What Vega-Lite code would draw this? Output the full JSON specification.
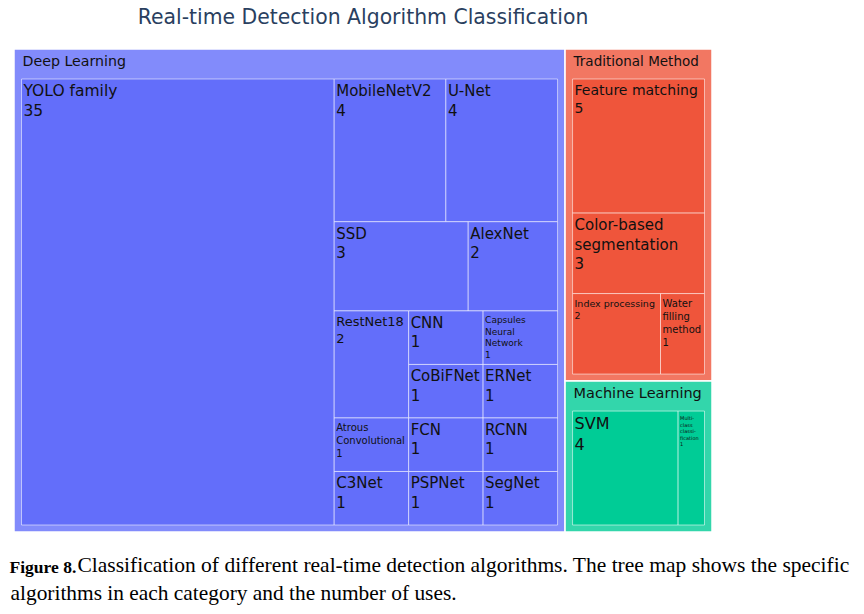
{
  "$schema": "https://vega.github.io/schema/vega-lite/v6.json",
  "width": 698,
  "height": 483,
  "autosize": {"type": "none"},
  "padding": {"left": 14, "top": 49, "right": 152, "bottom": 82},
  "background": "white",
  "title": {
    "text": "Real-time Detection Algorithm Classification",
    "font": "DejaVu Sans",
    "fontSize": 20.4,
    "fontWeight": "normal",
    "color": "#2a3f5f",
    "anchor": "middle",
    "frame": "group",
    "offset": 20
  },
  "data": {
    "values": [
      {"category": "Deep Learning", "name": "YOLO family", "value": 35, "path": "DL/i/Y/i/i/i"},
      {"category": "Deep Learning", "name": "MobileNetV2", "value": 4, "path": "DL/i/Rest/row1/MobileNetV2/i"},
      {"category": "Deep Learning", "name": "U-Net", "value": 4, "path": "DL/i/Rest/row1/U-Net/i"},
      {"category": "Deep Learning", "name": "SSD", "value": 3, "path": "DL/i/Rest/row2/SSD/i"},
      {"category": "Deep Learning", "name": "AlexNet", "value": 2, "path": "DL/i/Rest/row2/AlexNet/i"},
      {"category": "Deep Learning", "name": "RestNet18", "value": 2, "path": "DL/i/Rest/r12/c1/RestNet18"},
      {"category": "Deep Learning", "name": "Atrous Convolutional", "value": 1, "path": "DL/i/Rest/r12/c1/Atrous"},
      {"category": "Deep Learning", "name": "C3Net", "value": 1, "path": "DL/i/Rest/r12/c1/C3Net"},
      {"category": "Deep Learning", "name": "CNN", "value": 1, "path": "DL/i/Rest/r12/c2/q1"},
      {"category": "Deep Learning", "name": "Capsules Neural Network", "value": 1, "path": "DL/i/Rest/r12/c2/q1"},
      {"category": "Deep Learning", "name": "CoBiFNet", "value": 1, "path": "DL/i/Rest/r12/c2/q2"},
      {"category": "Deep Learning", "name": "ERNet", "value": 1, "path": "DL/i/Rest/r12/c2/q2"},
      {"category": "Deep Learning", "name": "FCN", "value": 1, "path": "DL/i/Rest/r12/c2/q3"},
      {"category": "Deep Learning", "name": "RCNN", "value": 1, "path": "DL/i/Rest/r12/c2/q3"},
      {"category": "Deep Learning", "name": "PSPNet", "value": 1, "path": "DL/i/Rest/r12/c2/q4"},
      {"category": "Deep Learning", "name": "SegNet", "value": 1, "path": "DL/i/Rest/r12/c2/q4"},
      {"category": "Traditional Method", "name": "Feature matching", "value": 5, "path": "R/T/i/FM/i/i"},
      {"category": "Traditional Method", "name": "Color-based segmentation", "value": 3, "path": "R/T/i/CB/i/i"},
      {"category": "Traditional Method", "name": "Index processing", "value": 2, "path": "R/T/i/trow/Index/i"},
      {"category": "Traditional Method", "name": "Water filling method", "value": 1, "path": "R/T/i/trow/Water/i"},
      {"category": "Machine Learning", "name": "SVM", "value": 4, "path": "R/M/i/i/SVM/i"},
      {"category": "Machine Learning", "name": "Multi-class classification", "value": 1, "path": "R/M/i/i/Multi/i"}
    ]
  },
  "transform": [
    {"window": [{"op": "row_number", "as": "idx"}]},
    {"calculate": "split(datum.path, '/')", "as": "pp"},
    {"calculate": "datum.pp[0]", "as": "p1"},
    {"calculate": "datum.p1 + '/' + datum.pp[1]", "as": "p2"},
    {"calculate": "datum.p2 + '/' + datum.pp[2]", "as": "p3"},
    {"calculate": "datum.p3 + '/' + datum.pp[3]", "as": "p4"},
    {"calculate": "datum.p4 + '/' + datum.pp[4]", "as": "p5"},
    {"calculate": "datum.p5 + '/' + datum.pp[5]", "as": "p6"},
    {"calculate": "datum.p6 + '/' + datum.name", "as": "p7"},
    {"joinaggregate": [{"op": "sum", "field": "value", "as": "t0"}]},

    {"window": [{"op": "sum", "field": "value", "as": "c1"}], "sort": [{"field": "idx", "order": "ascending"}], "frame": [null, 0]},
    {"calculate": "datum.c1 - datum.value", "as": "l1"},
    {"joinaggregate": [{"op": "min", "field": "l1", "as": "o1"}, {"op": "sum", "field": "value", "as": "t1"}], "groupby": ["p1"]},

    {"window": [{"op": "sum", "field": "value", "as": "c2"}], "sort": [{"field": "idx", "order": "ascending"}], "groupby": ["p1"], "frame": [null, 0]},
    {"calculate": "datum.c2 - datum.value", "as": "l2"},
    {"joinaggregate": [{"op": "min", "field": "l2", "as": "o2"}, {"op": "sum", "field": "value", "as": "t2"}], "groupby": ["p2"]},

    {"window": [{"op": "sum", "field": "value", "as": "c3"}], "sort": [{"field": "idx", "order": "ascending"}], "groupby": ["p2"], "frame": [null, 0]},
    {"calculate": "datum.c3 - datum.value", "as": "l3"},
    {"joinaggregate": [{"op": "min", "field": "l3", "as": "o3"}, {"op": "sum", "field": "value", "as": "t3"}], "groupby": ["p3"]},

    {"window": [{"op": "sum", "field": "value", "as": "c4"}], "sort": [{"field": "idx", "order": "ascending"}], "groupby": ["p3"], "frame": [null, 0]},
    {"calculate": "datum.c4 - datum.value", "as": "l4"},
    {"joinaggregate": [{"op": "min", "field": "l4", "as": "o4"}, {"op": "sum", "field": "value", "as": "t4"}], "groupby": ["p4"]},

    {"window": [{"op": "sum", "field": "value", "as": "c5"}], "sort": [{"field": "idx", "order": "ascending"}], "groupby": ["p4"], "frame": [null, 0]},
    {"calculate": "datum.c5 - datum.value", "as": "l5"},
    {"joinaggregate": [{"op": "min", "field": "l5", "as": "o5"}, {"op": "sum", "field": "value", "as": "t5"}], "groupby": ["p5"]},

    {"window": [{"op": "sum", "field": "value", "as": "c6"}], "sort": [{"field": "idx", "order": "ascending"}], "groupby": ["p5"], "frame": [null, 0]},
    {"calculate": "datum.c6 - datum.value", "as": "l6"},
    {"joinaggregate": [{"op": "min", "field": "l6", "as": "o6"}, {"op": "sum", "field": "value", "as": "t6"}], "groupby": ["p6"]},

    {"window": [{"op": "sum", "field": "value", "as": "c7"}], "sort": [{"field": "idx", "order": "ascending"}], "groupby": ["p6"], "frame": [null, 0]},
    {"calculate": "datum.c7 - datum.value", "as": "l7"},
    {"joinaggregate": [{"op": "min", "field": "l7", "as": "o7"}, {"op": "sum", "field": "value", "as": "t7"}], "groupby": ["p7"]},

    {"calculate": "698 * datum.o1 / datum.t0", "as": "X0a"},
    {"calculate": "698 * (datum.o1 + datum.t1) / datum.t0", "as": "X1a"},
    {"calculate": "483 * datum.o2 / datum.t1", "as": "Y0a"},
    {"calculate": "483 * (datum.o2 + datum.t2) / datum.t1", "as": "Y1a"},
    {"calculate": "datum.X0a + (datum.X1a - datum.X0a) * datum.o3 / datum.t2", "as": "X0b"},
    {"calculate": "datum.X0a + (datum.X1a - datum.X0a) * (datum.o3 + datum.t3) / datum.t2", "as": "X1b"},
    {"calculate": "datum.Y0a + (datum.Y1a - datum.Y0a) * datum.o4 / datum.t3", "as": "Y0b"},
    {"calculate": "datum.Y0a + (datum.Y1a - datum.Y0a) * (datum.o4 + datum.t4) / datum.t3", "as": "Y1b"},
    {"calculate": "datum.X0b + (datum.X1b - datum.X0b) * datum.o5 / datum.t4", "as": "X0c"},
    {"calculate": "datum.X0b + (datum.X1b - datum.X0b) * (datum.o5 + datum.t5) / datum.t4", "as": "X1c"},
    {"calculate": "datum.Y0b + (datum.Y1b - datum.Y0b) * datum.o6 / datum.t5", "as": "Y0c"},
    {"calculate": "datum.Y0b + (datum.Y1b - datum.Y0b) * (datum.o6 + datum.t6) / datum.t5", "as": "Y1c"},
    {"calculate": "datum.X0c + (datum.X1c - datum.X0c) * datum.o7 / datum.t6", "as": "X0d"},
    {"calculate": "datum.X0c + (datum.X1c - datum.X0c) * (datum.o7 + datum.t7) / datum.t6", "as": "X1d"},

    {"joinaggregate": [
      {"op": "min", "field": "X0d", "as": "cx0"},
      {"op": "max", "field": "X1d", "as": "cx1"},
      {"op": "min", "field": "Y0c", "as": "cy0"},
      {"op": "max", "field": "Y1c", "as": "cy1"}
    ], "groupby": ["category"]},
    {"calculate": "datum.cx0 + 7.5 + (datum.X0d - datum.cx0) * (datum.cx1 - datum.cx0 - 15) / (datum.cx1 - datum.cx0)", "as": "lx0"},
    {"calculate": "datum.cx0 + 7.5 + (datum.X1d - datum.cx0) * (datum.cx1 - datum.cx0 - 15) / (datum.cx1 - datum.cx0)", "as": "lx1"},
    {"calculate": "datum.cy0 + 30 + (datum.Y0c - datum.cy0) * (datum.cy1 - datum.cy0 - 37) / (datum.cy1 - datum.cy0)", "as": "ly0"},
    {"calculate": "datum.cy0 + 30 + (datum.Y1c - datum.cy0) * (datum.cy1 - datum.cy0 - 37) / (datum.cy1 - datum.cy0)", "as": "ly1"}
  ],
  "layer": [
    {
      "transform": [
        {"window": [{"op": "row_number", "as": "crn"}], "groupby": ["category"]},
        {"filter": "datum.crn === 1"}
      ],
      "mark": {"type": "rect", "stroke": "white", "strokeWidth": 1.5},
      "encoding": {
        "x": {
          "field": "cx0", "type": "quantitative",
          "scale": {"domain": [0, 698], "nice": false, "zero": false},
          "axis": {
            "orient": "bottom", "title": "Figure 8.", "domain": false, "ticks": false, "labels": false, "grid": false,
            "titleFont": "Liberation Serif", "titleFontSize": 17.5, "titleFontWeight": "bold", "titleColor": "#000000",
            "titleX": -5, "titleY": 40, "titleAlign": "left", "titleBaseline": "alphabetic", "titleAngle": 0, "titleLimit": 900
          }
        },
        "x2": {"field": "cx1"},
        "y": {"field": "cy0", "type": "quantitative", "scale": {"domain": [0, 483], "nice": false, "zero": false, "reverse": true}, "axis": null},
        "y2": {"field": "cy1"},
        "color": {
          "field": "category", "type": "nominal",
          "scale": {"domain": ["Deep Learning", "Traditional Method", "Machine Learning"], "range": ["#828bfb", "#f27762", "#33d6ab"]},
          "legend": null
        }
      }
    },
    {
      "transform": [
        {"window": [{"op": "row_number", "as": "crn"}], "groupby": ["category"]},
        {"filter": "datum.crn === 1"},
        {"calculate": "datum.category === 'Deep Learning' ? 14.2 : datum.category === 'Traditional Method' ? 13.5 : 14.5", "as": "hfs"}
      ],
      "mark": {"type": "text", "align": "left", "baseline": "alphabetic", "dx": 8.5, "dy": 16.5, "font": "DejaVu Sans", "color": "#111111"},
      "encoding": {
        "x": {
          "field": "cx0", "type": "quantitative",
          "scale": {"domain": [0, 698], "nice": false, "zero": false},
          "axis": {
            "orient": "top", "title": "algorithms in each category and the number of uses.", "domain": false, "ticks": false, "labels": false, "grid": false,
            "titleFont": "Liberation Serif", "titleFontSize": 21.4, "titleFontWeight": "normal", "titleColor": "#000000",
            "titleX": -4, "titleY": 550, "titleAlign": "left", "titleBaseline": "alphabetic", "titleAngle": 0, "titleLimit": 900
          }
        },
        "y": {"field": "cy0", "type": "quantitative", "scale": {"domain": [0, 483], "nice": false, "zero": false, "reverse": true}, "axis": null},
        "text": {"field": "category"},
        "size": {"field": "hfs", "type": "quantitative", "scale": null}
      }
    },
    {
      "mark": {"type": "rect", "stroke": "#ffffff", "strokeOpacity": 0.55, "strokeWidth": 1},
      "encoding": {
        "x": {"field": "lx0", "type": "quantitative", "scale": {"domain": [0, 698], "nice": false, "zero": false}, "axis": null},
        "x2": {"field": "lx1"},
        "y": {
          "field": "ly0", "type": "quantitative",
          "scale": {"domain": [0, 483], "nice": false, "zero": false, "reverse": true},
          "axis": {
            "orient": "left", "title": "Classification of different real-time detection algorithms. The tree map shows the specific",
            "domain": false, "ticks": false, "labels": false, "grid": false,
            "titleFont": "Liberation Serif", "titleFontSize": 21.5, "titleFontWeight": "normal", "titleColor": "#000000",
            "titleX": 63, "titleY": 522, "titleAlign": "left", "titleBaseline": "alphabetic", "titleAngle": 0, "titleLimit": 900
          }
        },
        "y2": {"field": "ly1"},
        "color": {
          "field": "category", "type": "nominal",
          "scale": {"domain": ["Deep Learning", "Traditional Method", "Machine Learning"], "range": ["#636efa", "#ef553b", "#00cc96"]},
          "legend": null
        }
      }
    },
    {
      "transform": [
        {"calculate": "datum.name === 'Capsules Neural Network' ? 9 : datum.name === 'Atrous Convolutional' ? 10 : datum.name === 'Index processing' ? 9.5 : datum.name === 'Water filling method' ? 10 : datum.name === 'Multi-class classification' ? 5 : datum.name === 'RestNet18' ? 13 : datum.name === 'SVM' ? 16 : datum.name === 'YOLO family' ? 15.5 : datum.name === 'Feature matching' ? 14 : 15", "as": "fs"},
        {"calculate": "(indexof(['Capsules Neural Network', 'Atrous Convolutional', 'Color-based segmentation', 'Water filling method'], datum.name) >= 0 ? replace(datum.name, regexp(' ', 'g'), '\\n') : datum.name === 'Multi-class classification' ? 'Multi-\\nclass\\nclassi-\\nfication' : datum.name) + '\\n' + datum.value", "as": "label"}
      ],
      "mark": {"type": "text", "align": "left", "baseline": "top", "dx": 2, "dy": 5, "font": "DejaVu Sans", "color": "#111111", "lineBreak": "\n", "lineHeight": {"expr": "datum.fs * 1.3"}},
      "encoding": {
        "x": {"field": "lx0", "type": "quantitative", "scale": {"domain": [0, 698], "nice": false, "zero": false}, "axis": null},
        "y": {"field": "ly0", "type": "quantitative", "scale": {"domain": [0, 483], "nice": false, "zero": false, "reverse": true}, "axis": null},
        "text": {"field": "label"},
        "size": {"field": "fs", "type": "quantitative", "scale": null}
      }
    }
  ],
  "resolve": {"scale": {"color": "independent"}, "axis": {"x": "independent", "y": "independent"}},
  "config": {"view": {"stroke": null}}
}
